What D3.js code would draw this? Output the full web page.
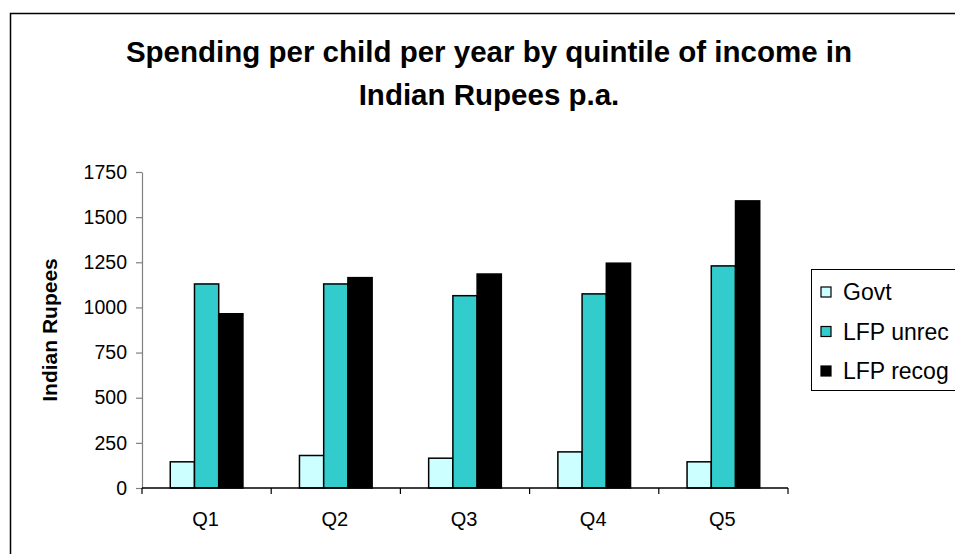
<!DOCTYPE html>
<html>
<head>
<meta charset="utf-8">
<script src="https://cdn.jsdelivr.net/npm/d3@7"></script>
<style>
  body { margin: 0; background: #fff; }
  text { font-family: "Liberation Sans", Arial, sans-serif; }
</style>
</head>
<body>
<div id="chart"></div>
<script>
// values
var quintiles = ["Q1", "Q2", "Q3", "Q4", "Q5"];
var seriesNames = ["Govt", "LFP unrec", "LFP recog"];
var govt = [145, 180, 165, 200, 145];
var lfpUnrec = [1130, 1130, 1065, 1075, 1230];
var lfpRecog = [965, 1165, 1185, 1245, 1590];
var yTicks = [0, 250, 500, 750, 1000, 1250, 1500, 1750];
var titleLines = ["Spending per child per year by quintile of income in", "Indian Rupees p.a."];

var seriesColors = ["#CCFFFF", "#33CCCC", "#000000"];
var allSeries = [govt, lfpUnrec, lfpRecog];

var W = 955, H = 554;
var plotL = 142, plotR = 788, plotT = 172, plotB = 488;

var svg = d3.select("#chart").append("svg")
  .attr("width", W)
  .attr("height", H);

svg.append("rect").attr("width", W).attr("height", H).attr("fill", "#fff");

// outer chart border (runs off the right and bottom edge)
svg.append("rect")
  .attr("x", 10.5).attr("y", 13.5)
  .attr("width", 1000).attr("height", 600)
  .attr("fill", "none")
  .attr("stroke", "#000")
  .attr("stroke-width", 1.5);

// title
svg.append("text")
  .attr("x", 489)
  .attr("y", 62)
  .attr("text-anchor", "middle")
  .style("font-size", "29.5px")
  .style("font-weight", "bold")
  .selectAll("tspan")
  .data(titleLines)
  .enter()
  .append("tspan")
  .attr("x", 489)
  .attr("dy", function (d, i) { return i == 0 ? 0 : 43; })
  .text(function (d) { return d; });

var x = d3.scaleBand().domain(quintiles).range([plotL, plotR]).padding(0);
var y = d3.scaleLinear().domain([0, 1750]).range([plotB, plotT]);

var groupW = x.step() * 0.5625;
var xs = d3.scaleBand()
  .domain(seriesNames)
  .range([(x.step() - groupW) / 2, (x.step() + groupW) / 2]);

// y axis
var yAxis = svg.append("g")
  .attr("transform", "translate(" + plotL + ",0)")
  .call(d3.axisLeft(y).tickValues(yTicks).tickFormat(d3.format("d"))
    .tickSize(6).tickPadding(9).tickSizeOuter(0));
yAxis.attr("font-family", null).attr("font-size", null);
yAxis.select(".domain").attr("stroke", "#808080").attr("stroke-width", 1.2);
yAxis.selectAll(".tick line").attr("stroke", "#808080").attr("stroke-width", 1.2);
yAxis.selectAll(".tick text")
  .style("font-size", "19.5px")
  .attr("fill", "#000");

// bars
var groups = svg.selectAll(".grp")
  .data(quintiles)
  .enter()
  .append("g")
  .attr("class", "grp")
  .attr("transform", function (d) { return "translate(" + x(d) + ",0)"; });

groups.selectAll("rect")
  .data(function (d, i) {
    return seriesNames.map(function (s, j) { return { s: s, v: allSeries[j][i], c: seriesColors[j] }; });
  })
  .enter()
  .append("rect")
  .attr("x", function (d) { return xs(d.s); })
  .attr("y", function (d) { return y(d.v); })
  .attr("width", xs.bandwidth())
  .attr("height", function (d) { return y(0) - y(d.v); })
  .attr("fill", function (d) { return d.c; })
  .attr("stroke", "#000")
  .attr("stroke-width", 1.5);

// x axis: ticks at category boundaries
var xAxisG = svg.append("g");
xAxisG.append("line")
  .attr("x1", plotL).attr("x2", plotR)
  .attr("y1", plotB).attr("y2", plotB)
  .attr("stroke", "#000").attr("stroke-width", 1.5);
xAxisG.selectAll(".xt")
  .data(quintiles.concat(["end"]))
  .enter()
  .append("line")
  .attr("x1", function (d, i) { return plotL + i * x.step(); })
  .attr("x2", function (d, i) { return plotL + i * x.step(); })
  .attr("y1", plotB).attr("y2", plotB + 6)
  .attr("stroke", "#000").attr("stroke-width", 1.2);
xAxisG.selectAll(".xl")
  .data(quintiles)
  .enter()
  .append("text")
  .attr("x", function (d) { return x(d) + x.bandwidth() / 2 - 1; })
  .attr("y", 526)
  .attr("text-anchor", "middle")
  .style("font-size", "20px")
  .text(function (d) { return d; });

// y axis title
svg.append("text")
  .attr("transform", "translate(57," + ((plotT + plotB) / 2) + ") rotate(-90)")
  .attr("text-anchor", "middle")
  .style("font-size", "21px")
  .style("font-weight", "bold")
  .text("Indian Rupees");

// legend
var legend = svg.append("g");
legend.append("rect")
  .attr("x", 811.5).attr("y", 269.5)
  .attr("width", 200).attr("height", 121)
  .attr("fill", "#fff")
  .attr("stroke", "#000")
  .attr("stroke-width", 1);

var items = legend.selectAll(".li")
  .data(seriesNames)
  .enter()
  .append("g")
  .attr("transform", function (d, i) { return "translate(821," + (292 + i * 39.5) + ")"; });
items.append("rect")
  .attr("x", 0).attr("y", -5)
  .attr("width", 10).attr("height", 10)
  .attr("fill", function (d, i) { return seriesColors[i]; })
  .attr("stroke", "#000")
  .attr("stroke-width", 1.2);
items.append("text")
  .attr("x", 22)
  .attr("y", 8)
  .style("font-size", "23px")
  .text(function (d) { return d; });
</script>
</body>
</html>
